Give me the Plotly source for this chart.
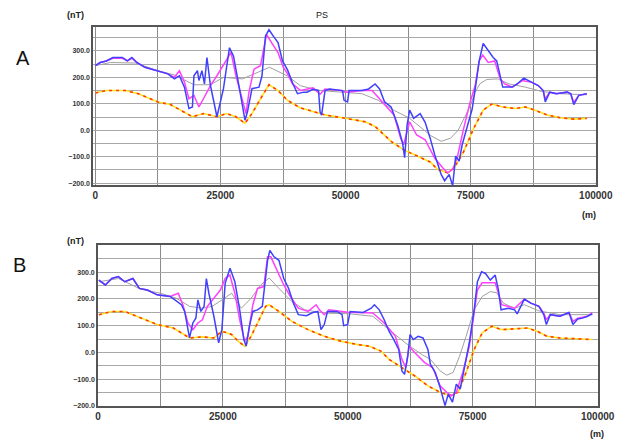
import plotly.graph_objects as go

# ---------------- Panel A data ----------------
a_blue_x = [0, 970, 2200, 3500, 5400, 6400, 7300, 8300, 9900, 12500, 14500, 15800, 16800, 17800, 18700, 19400,
            19700, 20400, 20700, 21300, 21800, 22300, 23000, 24300, 25600, 26800, 27600, 28800, 29900, 30400,
            31300, 32700, 33300, 34000, 34700, 35600, 36500, 37400, 38400, 39500, 40400, 41600, 42300, 43500,
            44600, 44900, 45200, 45900, 46800, 49400, 49700, 50400, 50700, 53300, 54600, 55900, 56800, 57800,
            59100, 60400, 61400, 61800, 62300, 62800, 63600, 64900, 65900, 66900, 67800, 69100, 69800, 70700,
            71400, 72000, 72700, 73300, 74200, 75300, 76200, 76700, 77500, 78500, 79500, 80200, 80900, 81400,
            83300, 84300, 85600, 87200, 88500, 89500, 89900, 90800, 92100, 94300, 95000, 95600, 96600, 98200]
a_blue_y = [244, 256, 262, 275, 275, 262, 275, 256, 238, 225, 213, 194, 206, 163, 82, 88,
            206, 225, 188, 225, 175, 275, 169, 51, 157, 312, 281, 157, 38, 70,
            157, 163, 206, 356, 380, 355, 331, 262, 228, 175, 138, 144, 144, 155,
            150, 70, 57, 150, 156, 150, 113, 107, 150, 150, 156, 175, 156, 107,
            88, 20, -49, -104, 20, 76, 45, 63, 30, -30, -92, -167, -191, -167,
            -210, -98, -117, -55, 7, 80, 194, 262, 328, 300, 275, 262, 200, 163,
            163, 175, 197, 181, 169, 150, 107, 144, 138, 144, 138, 97, 132, 138]

a_mag_x = [0, 970, 2200, 3500, 5400, 6400, 7300, 8300, 9900, 12500, 14500, 15800, 16800, 17800, 18700, 19700,
           20700, 21600, 23000, 24300, 26200, 27100, 28100, 29400, 30100, 30700, 31700, 33000, 34200, 35200,
           36500, 37500, 38400, 39400, 41000, 43500, 44900, 45900, 49000, 50400, 53300, 55300, 57800, 59700,
           61000, 61600, 62800, 64200, 65900, 67800, 69400, 70400, 71400, 72300, 73600, 74900, 75900, 76700,
           77400, 78500, 79800, 80900, 81800, 83300, 85300, 87200, 88500, 89500, 89900, 90800, 92100, 94300,
           95000, 95600, 96600, 98200]
a_mag_y = [244, 256, 262, 272, 272, 262, 272, 256, 238, 225, 213, 200, 225, 182, 119, 132,
           88, 119, 169, 206, 269, 294, 206, 107, 63, 144, 231, 244, 362, 331,
           294, 240, 213, 175, 150, 160, 136, 156, 150, 144, 150, 150, 99, 57,
           -30, -55, 32, -18, -36, -105, -142, -161, -148, -105, 7, 107, 169, 262,
           284, 256, 262, 194, 175, 163, 188, 181, 169, 150, 118, 144, 138, 144,
           138, 105, 132, 138]

a_gray_x = [0, 3000, 8000, 12500, 15800, 19700, 23000, 25600, 29400, 32000, 34800, 38400, 41000, 45000,
            48800, 53300, 56500, 59700, 62800, 65000, 67000, 69100, 71000, 72500, 73900, 75000, 75800, 76800,
            78200, 80400, 82700, 85900, 89100, 93000, 98200]
a_gray_y = [244, 256, 254, 225, 209, 172, 172, 200, 194, 216, 238, 205, 168, 150,
            144, 138, 113, 75, 45, 10, -20, -42, -30, 0, 50, 95, 140, 175,
            192, 194, 175, 163, 147, 138, 134]

a_org_x = [0, 2200, 6000, 8600, 12500, 15000, 17000, 19400, 21600, 24300, 26200, 28100, 29900, 31300, 33000,
           34700, 36500, 38400, 40900, 43500, 46100, 50000, 53900, 55900, 59100, 61600, 64200, 66900, 68400,
           70400, 71700, 73600, 75600, 77500, 79200, 81400, 84000, 85900, 87800, 90400, 93000, 95600, 98200]
a_org_y = [141, 150, 150, 138, 107, 97, 76, 51, 63, 51, 63, 51, 26, 63, 119,
           172, 150, 113, 85, 70, 57, 45, 32, 14, -42, -74, -98, -120, -148,
           -161, -142, -81, 7, 76, 99, 88, 82, 88, 76, 57, 47, 42, 45]

# ---------------- Panel B data ----------------
b_blue_x = [188, 1480, 2780, 4080, 5370, 7000, 8290, 9900, 11850, 14440, 15400, 16700, 17360, 18330, 19000,
            19600, 20000, 20600, 21250, 21700, 22200, 23200, 24160, 24800, 25460, 26430, 27400, 28370, 29200,
            29670, 30320, 31000, 31940, 32900, 33950, 34400, 35250, 36220, 37190, 38160, 39130, 40100, 41730,
            43020, 44000, 44640, 45290, 45940, 47880, 48850, 49180, 49960, 50470, 53070, 54690, 55330, 56300,
            57280, 58250, 59220, 60190, 60840, 61360, 62010, 62460, 63110, 64080, 65050, 66030, 66540, 67510,
            68480, 69460, 70100, 70950, 71720, 72500, 73340, 74320, 75290, 75940, 76780, 77560, 78530, 79500,
            80150, 80670, 82100, 83390, 83900, 85330, 86630, 88250, 89220, 89740, 90520, 92460, 94270, 95050,
            96020, 97000, 97970, 98940]
b_blue_y = [270, 252, 276, 283, 264, 276, 239, 233, 215, 209, 196, 178, 153, 54, 110,
            128, 196, 153, 172, 276, 221, 135, 36, 85, 258, 314, 264, 159, 48,
            23, 98, 153, 159, 172, 344, 381, 357, 344, 276, 239, 184, 141, 137,
            149, 153, 85, 104, 153, 153, 141, 100, 104, 153, 149, 165, 178, 159,
            122, 79, 48, 11, -69, -82, -14, 67, 48, 60, 54, 11, -45, -75,
            -131, -199, -156, -186, -119, -137, -51, 36, 159, 264, 301, 295, 270, 289,
            233, 159, 165, 159, 144, 199, 184, 172, 141, 104, 141, 135, 149, 104,
            125, 128, 135, 144]

b_mag_x = [188, 1480, 2780, 4080, 5370, 7000, 8290, 9900, 11850, 14440, 16070, 17000, 18000, 19000, 20000,
           20900, 21900, 23200, 24500, 25460, 26400, 27400, 28370, 29350, 30000, 31000, 31940, 33200, 33950,
           34600, 35900, 37190, 38490, 40100, 42050, 43670, 44320, 45290, 46260, 50000, 55010, 57280, 59540,
           60840, 61620, 62270, 63430, 65380, 67000, 68480, 69780, 70750, 71720, 73020, 74320, 75290, 75940,
           76900, 79500, 80150, 80800, 83390, 85330, 86630, 88250, 89220, 89740, 90520, 92460, 94270, 95050,
           96020, 97970, 98940]
b_mag_y = [270, 252, 276, 283, 264, 276, 239, 233, 215, 209, 221, 178, 110, 85, 110,
           122, 172, 202, 233, 276, 289, 221, 122, 42, 60, 178, 239, 246, 357,
           357, 301, 252, 209, 165, 153, 178, 159, 141, 159, 150, 147, 110, 60,
           -26, -57, 23, -1, -38, -57, -125, -149, -162, -149, -75, 23, 153, 233,
           260, 260, 221, 178, 165, 199, 184, 172, 147, 122, 141, 135, 149, 116,
           128, 135, 149]

b_gray_x = [188, 4080, 8610, 12500, 15740, 18330, 20900, 22870, 24810, 26750, 28700, 30640, 32590, 34270,
            36220, 38810, 41400, 45290, 50470, 55010, 58250, 61490, 64730, 66540, 68480, 69780, 71080, 72370,
            73670, 75290, 76900, 78530, 79820, 81120, 83390, 85330, 88250, 92460, 98940]
b_gray_y = [264, 276, 236, 221, 202, 172, 165, 172, 196, 221, 165, 202, 252, 278,
            239, 190, 159, 147, 144, 135, 85, 36, -7, -26, -69, -85, -75, -14,
            60, 159, 209, 227, 223, 184, 165, 178, 155, 141, 141]

b_org_x = [188, 2780, 5370, 8610, 11850, 15100, 18330, 20900, 23200, 24810, 26750, 28050, 29350, 30640, 32270,
           33560, 34270, 36220, 38810, 42050, 45290, 48530, 51770, 54360, 56630, 58250, 60840, 63430, 66030,
           68480, 70430, 72050, 73670, 75290, 76900, 78850, 80800, 83390, 85980, 87920, 89870, 92460, 95700,
           98940]
b_org_y = [141, 153, 153, 128, 104, 91, 54, 58, 54, 79, 67, 42, 23, 60, 122,
           172, 178, 153, 116, 85, 60, 42, 30, 23, 5, -26, -57, -88, -125,
           -149, -162, -149, -75, 11, 73, 98, 85, 88, 91, 79, 60, 54, 51,
           48]

x_ticks = [0, 25000, 50000, 75000, 100000]
y_ticks = [-200, -100, 0, 100, 200, 300]

BLUE = "#4040ff"
MAG = "#ff40ff"
GRAY = "#a0a0a0"
YEL = "#ffe41e"
RED = "#ff3a10"

W, H = 639, 443

fig = go.Figure()


def add_panel(xa, ya, bx, by, mx, my, gx, gy, ox, oy):
    kw = dict(xaxis=xa, yaxis=ya, mode="lines", showlegend=False, hoverinfo="skip")
    fig.add_trace(go.Scatter(x=gx, y=gy, line=dict(color=GRAY, width=1), **kw))
    fig.add_trace(go.Scatter(x=ox, y=oy, line=dict(color=YEL, width=1.6), **kw))
    fig.add_trace(go.Scatter(x=ox, y=oy, line=dict(color=RED, width=1.6, dash="3px,4px"), **kw))
    fig.add_trace(go.Scatter(x=mx, y=my, line=dict(color=MAG, width=1.5), **kw))
    fig.add_trace(go.Scatter(x=bx, y=by, line=dict(color=BLUE, width=1.5), **kw))


add_panel("x", "y", a_blue_x, a_blue_y, a_mag_x, a_mag_y, a_gray_x, a_gray_y, a_org_x, a_org_y)
add_panel("x2", "y2", b_blue_x, b_blue_y, b_mag_x, b_mag_y, b_gray_x, b_gray_y, b_org_x, b_org_y)

tickfont_x = dict(family="Liberation Sans, Arial, sans-serif", size=10, color="#333", weight="bold")
tickfont_y = dict(family="Liberation Sans, Arial, sans-serif", size=7, color="#333", weight="bold")


def xaxis(domain, rng, anchor):
    return dict(domain=domain, range=rng, anchor=anchor, tickvals=x_ticks, tickformat="d",
                showgrid=True, gridcolor="#8c8c8c", gridwidth=1,
                minor=dict(dtick=12500, tick0=0, showgrid=True, gridcolor="#8c8c8c", gridwidth=1),
                showline=True, linecolor="#555", linewidth=1.5, mirror=True,
                ticks="", tickfont=tickfont_x, zeroline=False, fixedrange=True)


def yaxis(domain, rng, anchor):
    return dict(domain=domain, range=rng, anchor=anchor, tickvals=y_ticks, tickformat=".1f",
                showgrid=True, gridcolor="#a8a8a8", gridwidth=1,
                minor=dict(dtick=50, tick0=0, showgrid=True, gridcolor="#a8a8a8", gridwidth=1),
                showline=True, linecolor="#555", linewidth=1.5, mirror=True,
                ticks="", tickfont=tickfont_y, zeroline=False, fixedrange=True)


# pixel geometry of the two plot frames
ax_l, ax_r, ax_t, ax_b = 93, 612, 27, 186.5
bx_l, bx_r, bx_t, bx_b = 98, 614, 247, 408.7

fig.update_layout(
    width=W, height=H, margin=dict(l=0, r=0, t=0, b=0),
    paper_bgcolor="white", plot_bgcolor="white",
    xaxis=xaxis([ax_l / W, ax_r / W], [-450, 100010], "y"),
    yaxis=yaxis([1 - ax_b / H, 1 - ax_t / H], [-208, 391], "x"),
    xaxis2=xaxis([bx_l / W, bx_r / W], [0, 100030], "y2"),
    yaxis2=yaxis([1 - bx_b / H, 1 - bx_t / H], [-200, 400], "x2"),
)

small = dict(family="Liberation Sans, Arial, sans-serif", size=9, color="#222")
big = dict(family="Liberation Sans, Arial, sans-serif", size=20, color="#111")


def ann(text, x, y, font, xanchor="center"):
    fig.add_annotation(text=text, x=x / W, y=1 - y / H, xref="paper", yref="paper",
                       showarrow=False, font=font, xanchor=xanchor, yanchor="middle")


ann("A", 21, 58, big)
ann("B", 17, 267, big)
ann("PS", 329, 15, small)
ann("<b>(nT)</b>", 75, 15, small)
ann("<b>(nT)</b>", 75, 243, small)
ann("<b>(m)</b>", 605, 216, small)
ann("<b>(m)</b>", 613, 437, small)

fig.write_html("out.html")
